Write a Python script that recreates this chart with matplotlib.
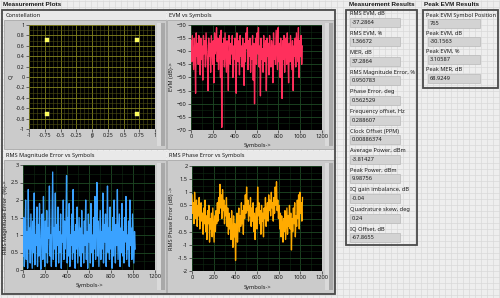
import numpy as np
import matplotlib
matplotlib.use('Agg')
import matplotlib.pyplot as plt
from matplotlib.patches import Rectangle
from matplotlib.ticker import FixedLocator, AutoMinorLocator

# ---------------- data ----------------
const_i = [-0.707, 0.707, -0.707, 0.720]
const_q = [0.707, 0.707, -0.707, -0.720]

symbol_step = 6
evm_db = [
    -36, -44, -34, -41, -47, -35, -39, -56, -33, -42,
    -37, -45, -34, -40, -49, -35, -43, -38, -51, -34,
    -41, -36, -46, -33, -39, -44, -55, -35, -42, -37,
    -48, -34, -40, -45, -36, -52, -33, -41, -38, -31,
    -44, -35, -47, -39, -34, -50, -32, -69, -37, -43,
    -35, -46, -33, -40, -48, -36, -42, -55, -34, -39,
    -45, -37, -41, -34, -50, -38, -43, -35, -47, -56,
    -33, -40, -44, -36, -49, -34, -42, -38, -46, -35,
    -41, -53, -37, -44, -33, -39, -31, -47, -36, -42,
    -35, -48, -38, -43, -34, -51, -37, -60, -40, -35,
    -45, -33, -41, -31, -46, -38, -57, -35, -43, -39,
    -48, -34, -40, -44, -36, -55, -35, -42, -37, -49,
    -34, -41, -46, -36, -39, -52, -33, -43, -38, -45,
    -32, -40, -47, -31, -44, -37, -50, -35, -42, -58,
    -36, -43, -34, -48, -39, -35, -45, -33, -41, -52,
    -37, -44, -34, -40, -47, -36, -55, -38, -42, -35,
    -46, -33, -39, -44, -31, -50, -36, -42, -34, -45, -38]

mag_err = [
    0.4, 1.5, 0.1, 0.9, 2.0, 0.3, 1.1, 0.05, 2.3, 0.6,
    1.2, 0.2, 1.6, 0.8, 0.05, 1.4, 0.5, 2.2, 0.15, 1.0,
    0.7, 1.8, 0.1, 1.3, 0.4, 1.9, 0.6, 0.02, 1.1, 1.6,
    0.3, 2.1, 0.8, 0.1, 1.4, 0.5, 1.7, 0.2, 1.2, 0.9,
    2.4, 0.4, 1.0, 0.1, 1.5, 2.8, 0.3, 1.2, 0.6, 2.2,
    0.1, 1.3, 0.7, 1.8, 0.2, 1.1, 0.5, 1.6, 0.05, 1.0,
    0.8, 2.0, 0.3, 1.4, 0.6, 1.2, 2.7, 0.2, 1.5, 0.4,
    1.9, 0.1, 1.0, 0.7, 1.6, 0.3, 2.3, 0.5, 1.1, 0.05,
    1.3, 0.6, 1.8, 0.2, 0.9, 1.5, 0.4, 1.2, 0.1, 1.7,
    0.5, 1.0, 0.2, 1.4, 0.7, 2.0, 0.3, 1.1, 0.05, 1.6,
    0.8, 1.3, 0.2, 1.9, 0.5, 1.0, 0.1, 1.5, 0.6, 2.1,
    0.3, 1.2, 2.5, 0.4, 1.4, 0.1, 0.9, 1.7, 0.3, 1.1,
    0.6, 2.2, 0.2, 1.3, 0.8, 1.6, 0.1, 1.0, 2.4, 0.5,
    1.2, 0.3, 1.8, 0.6, 1.1, 0.05, 1.5, 0.4, 2.0, 0.8,
    0.2, 1.3, 0.7, 2.3, 0.3, 1.0, 1.6, 0.1, 1.2, 0.5,
    1.9, 0.4, 1.1, 0.2, 1.5, 0.8, 2.1, 0.3, 1.0, 0.6,
    1.4, 0.1, 2.0, 0.7, 1.2, 0.3, 1.6, 0.9, 0.2, 1.1, 0.6]

phase_err = [
    0.9, 0.2, 0.6, -0.2, 1.0, 0.4, 0.0, 0.7, -0.3, 0.5,
    0.1, 0.8, -0.4, 0.3, 0.6, -0.1, 0.2, -0.6, 0.4, -0.2,
    0.7, -0.5, 0.1, -0.8, 0.3, -0.2, 0.5, -0.9, 0.0, -0.4,
    0.2, -0.7, 0.4, -0.3, -0.9, 0.1, -0.5, 0.3, -0.2, 0.6,
    -0.1, 0.8, 0.2, 1.3, 0.4, 0.9, 0.0, 1.1, 0.3, 0.7,
    -0.2, 0.5, 0.1, 0.8, -0.3, 0.4, -0.6, 0.2, -0.4, 0.0,
    -0.8, 0.3, -0.5, -1.1, 0.1, -0.7, -0.2, -1.6, -0.4, 0.2,
    -0.9, -0.1, 0.4, -0.5, 0.1, -0.3, 0.6, -0.2, 0.3, -0.6,
    0.5, 0.0, 0.9, 0.2, 1.2, 0.3, 0.7, -0.1, 0.5, 0.1,
    0.8, -0.3, 0.4, -0.1, 0.6, -0.5, 0.2, -0.8, 0.0, 0.4,
    -0.4, 1.2, 0.1, 0.6, -0.2, 0.3, -0.6, 0.5, -0.1, 0.2,
    -0.7, 0.4, 0.0, 0.8, -0.3, 0.2, 0.6, -0.1, 0.9, 0.3,
    0.7, 0.1, 1.0, 0.4, 0.6, -0.1, 0.8, 0.2, 1.2, 0.5,
    1.4, 0.3, 0.7, 0.0, 0.5, -0.4, 0.2, -0.7, 0.1, -0.3,
    -0.9, 0.0, -0.5, 0.3, -0.8, -0.2, 0.4, -0.6, 0.1, -0.3,
    0.5, -0.4, 0.2, -1.2, 0.0, -0.5, 0.4, -0.2, 0.6, -0.7,
    0.1, -0.3, 0.7, 0.0, 0.9, -0.4, 1.0, 0.2, 0.6, -0.1, 0.8]

const_xticks = [-1, -0.75, -0.5, -0.25, 0, 0.25, 0.5, 0.75, 1]
const_xlabels = ['-1', '-0.75', '-0.5', '-0.25', '0', '0.25', '0.5', '0.75', '1']
const_yticks = [-1, -0.8, -0.6, -0.4, -0.2, 0, 0.2, 0.4, 0.6, 0.8, 1]
const_ylabels = ['-1', '-0.8', '-0.6', '-0.4', '-0.2', '0', '0.2', '0.4', '0.6', '0.8', '1']
sym_ticks = [0, 200, 400, 600, 800, 1000, 1200]
evm_ticks = [-70, -65, -60, -55, -50, -45, -40, -35, -30]
mag_ticks = [0, 0.5, 1, 1.5, 2, 2.5, 3]
mag_labels = ['0', '0.5', '1', '1.5', '2', '2.5', '3']
phase_ticks = [-2, -1.5, -1, -0.5, 0, 0.5, 1, 1.5, 2]
phase_labels = ['-2', '-1.5', '-1', '-0.5', '0', '0.5', '1', '1.5', '2']

meas_names = ["RMS EVM, dB", "RMS EVM, %", "MER, dB", "RMS Magnitude Error, %",
              "Phase Error, deg", "Frequency offset, Hz", "Clock Offset (PPM)",
              "Average Power, dBm", "Peak Power, dBm", "IQ gain imbalance, dB",
              "Quadrature skew, deg", "IQ Offset, dB"]
meas_values = ["-37.2864", "1.36672", "37.2864", "0.950783", "0.562529", "0.288607",
               "0.00886374", "-3.81427", "9.98756", "-0.04", "0.24", "-67.8655"]
peak_names = ["Peak EVM Symbol Position", "Peak EVM, dB", "Peak EVM, %", "Peak MER, dB"]
peak_values = ["765", "-30.1563", "3.10587", "68.9249"]

# ---------------- figure ----------------
W, H = 500, 298
plt.rcParams['font.family'] = ['Noto Sans', 'DejaVu Sans']
FS = 4.1
BOLD = dict(fontweight='bold', fontsize=4.6, family=['Liberation Sans', 'DejaVu Sans'])
fig = plt.figure(figsize=(W / 100, H / 100), dpi=100)
bg = fig.add_axes([0, 0, 1, 1])
bg.set_xlim(0, W)
bg.set_ylim(H, 0)
bg.axis('off')
bg.add_patch(Rectangle((0, 0), W, H, color='#eeeeee', zorder=0))
bg.vlines(np.arange(0.5, W, 6), 0, H, color='#d9d9d9', lw=0.5, zorder=0.5)
bg.hlines(np.arange(0.5, H, 6), 0, W, color='#d9d9d9', lw=0.5, zorder=0.5)


def rect(x0, y0, x1, y1, **kw):
    bg.add_patch(Rectangle((x0, y0), x1 - x0, y1 - y0, **kw))


def txt(x, y, s, **kw):
    kw.setdefault('fontsize', FS)
    kw.setdefault('va', 'center')
    kw.setdefault('color', '#1a1a1a')
    bg.text(x, y, s, zorder=5, **kw)


# outer cluster frame
txt(3, 4.5, "Measurement Plots", **BOLD)
rect(2, 10, 335, 294, facecolor='none', edgecolor='#4a4a4a', lw=1.3, zorder=3)

# graph panels
panels = [(4, 11, 166, 149), (167, 11, 334, 149), (4, 151, 166, 293), (167, 151, 334, 293)]
titles = ["Constellation", "EVM vs Symbols", "RMS Magnitude Error vs Symbols", "RMS Phase Error vs Symbols"]
for (x0, y0, x1, y1), t in zip(panels, titles):
    rect(x0, y0, x1, y0 + 9, facecolor='#e9e9e9', edgecolor='none', zorder=1)
    rect(x0, y0 + 9, x1, y1, facecolor='#cbcbcb', edgecolor='#a8a8a8', lw=0.6, zorder=1)
    rect(x1 - 9, y0 + 12, x1 - 5, y1 - 3, facecolor='#dadada', edgecolor='none', zorder=1.5)
    rect(x1 - 5, y0 + 12, x1 - 1, y1 - 3, facecolor='#a9a9a9', edgecolor='none', zorder=1.5)
    txt(x0 + 2, y0 + 4.5, t)


def pax(x0, y0, x1, y1, fs=FS):
    a = fig.add_axes([x0 / W, 1 - y1 / H, (x1 - x0) / W, (y1 - y0) / H])
    a.set_facecolor('black')
    for s in a.spines.values():
        s.set_visible(False)
    a.tick_params(direction='out', length=2, width=0.5, color='#333333',
                  labelsize=fs, pad=1, labelcolor='#1a1a1a')
    a.tick_params(which='minor', length=0)
    return a


def grid(a, major, minor):
    a.set_axisbelow(True)
    a.grid(True, which='major', color=major, lw=0.6)
    a.grid(True, which='minor', color=minor, lw=0.4)


# constellation
a1 = pax(29, 25, 155, 129, fs=3.9)
a1.set_xlim(-1, 1)
a1.set_ylim(-1, 1)
a1.xaxis.set_major_locator(FixedLocator(const_xticks))
a1.set_xticklabels(const_xlabels)
a1.yaxis.set_major_locator(FixedLocator(const_yticks))
a1.set_yticklabels(const_ylabels)
a1.xaxis.set_minor_locator(AutoMinorLocator(4))
a1.yaxis.set_minor_locator(AutoMinorLocator(2))
grid(a1, '#86861f', '#505014')
a1.scatter(const_i, const_q, s=5, marker='s', color='#ffff50', edgecolors='#ffffa0', lw=0.3, zorder=3)
txt(11, 77, "Q", rotation=90, ha='center')
txt(92, 137, "I", ha='center')

sym = np.arange(len(evm_db)) * symbol_step

# EVM
a2 = pax(191, 25, 322, 130)
a2.set_xlim(0, 1200)
a2.set_ylim(-70, -30)
a2.xaxis.set_major_locator(FixedLocator(sym_ticks))
a2.yaxis.set_major_locator(FixedLocator(evm_ticks))
a2.xaxis.set_minor_locator(AutoMinorLocator(2))
a2.yaxis.set_minor_locator(AutoMinorLocator(2))
grid(a2, '#1e4a24', '#0f2a13')
a2.plot(sym, evm_db, color='#ff2f5c', lw=0.95, zorder=3)
txt(172, 77, "EVM (dB)->", rotation=90, ha='center')
txt(257, 145, "Symbols->", ha='center')

# RMS magnitude error
a3 = pax(23, 165, 155, 270)
a3.set_xlim(0, 1200)
a3.set_ylim(0, 3)
a3.xaxis.set_major_locator(FixedLocator(sym_ticks))
a3.yaxis.set_major_locator(FixedLocator(mag_ticks))
a3.set_yticklabels(mag_labels)
a3.xaxis.set_minor_locator(AutoMinorLocator(2))
a3.yaxis.set_minor_locator(AutoMinorLocator(2))
grid(a3, '#1e4a24', '#0f2a13')
a3.plot(sym, mag_err, color='#3aa2ff', lw=0.95, zorder=3)
txt(6, 217, "RMS Magnitude Error  (%)->", rotation=90, ha='center')
txt(89, 286, "Symbols->", ha='center')

# RMS phase error
a4 = pax(192, 166, 322, 271)
a4.set_xlim(0, 1200)
a4.set_ylim(-2, 2)
a4.xaxis.set_major_locator(FixedLocator(sym_ticks))
a4.yaxis.set_major_locator(FixedLocator(phase_ticks))
a4.set_yticklabels(phase_labels)
a4.xaxis.set_minor_locator(AutoMinorLocator(2))
a4.yaxis.set_minor_locator(AutoMinorLocator(2))
grid(a4, '#1e4a24', '#0f2a13')
a4.plot(sym, phase_err, color='#ffab00', lw=0.95, zorder=3)
txt(172, 218, "RMS Phase Error (dB) ->", rotation=90, ha='center')
txt(257, 287, "Symbols->", ha='center')

# Measurement Results
txt(349, 4.5, "Measurement Results", **BOLD)
rect(346, 10, 417, 245, facecolor='none', edgecolor='#4a4a4a', lw=1.3, zorder=3)
for i, (n, v) in enumerate(zip(meas_names, meas_values)):
    yl = 13.5 + 19.6 * i
    txt(350, yl, n)
    rect(350, yl + 4, 400, yl + 13, facecolor='#d3d3d3', edgecolor='#b9b9b9', lw=0.5, zorder=2)
    txt(352, yl + 8.5, v)

# Peak EVM Results
txt(424, 4.5, "Peak EVM Results", **BOLD)
rect(423, 10, 498, 88, facecolor='none', edgecolor='#4a4a4a', lw=1.3, zorder=3)
for i, (n, v) in enumerate(zip(peak_names, peak_values)):
    yl = 15 + 18.2 * i
    txt(426, yl, n)
    rect(428, yl + 4, 480, yl + 13, facecolor='#d3d3d3', edgecolor='#b9b9b9', lw=0.5, zorder=2)
    txt(430, yl + 8.5, v)

fig.savefig('out.png', dpi=100)
